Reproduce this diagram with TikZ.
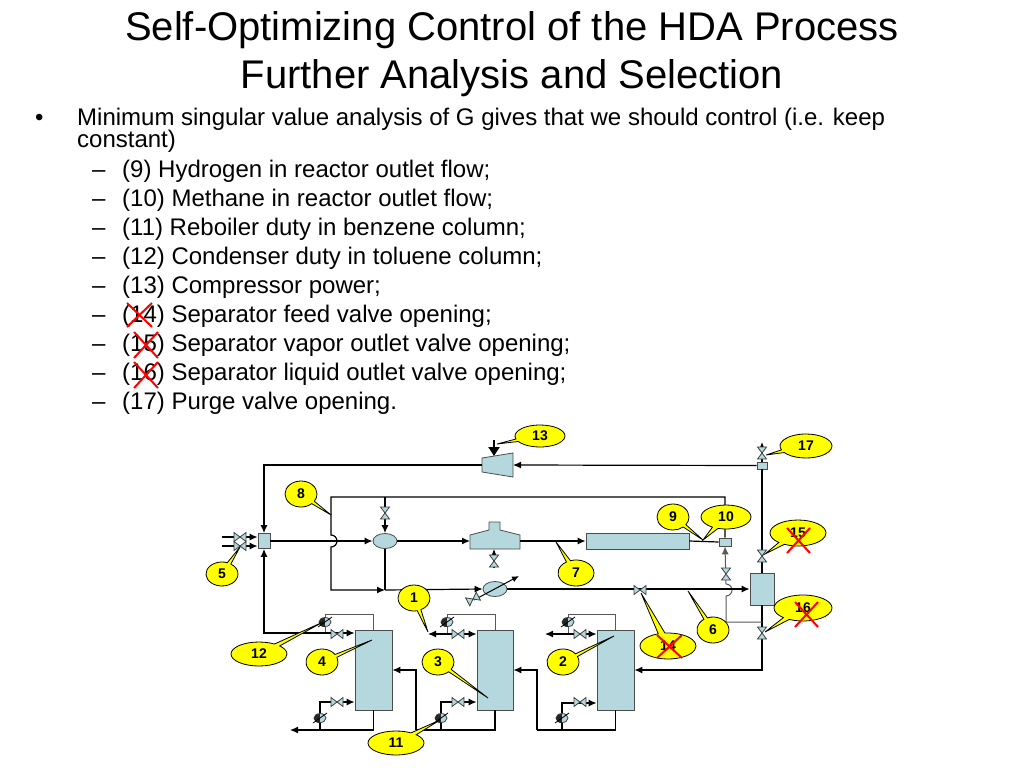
\documentclass[tikz,border=0pt]{standalone}
\usepackage{fontspec}
\setmainfont{Liberation Sans}
\usetikzlibrary{arrows.meta}
\usetikzlibrary{shapes.geometric}
\usetikzlibrary{shapes.callouts}
\definecolor{equip}{RGB}{180,216,222}
\definecolor{tagyellow}{RGB}{255,255,0}

\begin{document}
\begin{tikzpicture}[x=1pt,y=-1pt,
  pipe/.style={draw=black, line width=1.2pt},
  thinpipe/.style={draw=black!65, line width=1pt},
  flow/.style={-{Latex[length=8pt,width=7pt]}},
  unit/.style={draw=black!70, fill=equip, line width=0.8pt, inner sep=0pt},
  vlv/.style={draw=black!75, fill=equip, line width=0.8pt},
  tag/.style={ellipse callout, draw=black, fill=tagyellow, line width=0.8pt, inner sep=0pt,
    callout pointer arc=14, font=\fontsize{14}{14}\selectfont\bfseries},
  cross/.style={draw=red, line width=2pt},
  txt/.style={anchor=base west, inner sep=0pt, font=\fontsize{24}{29}\selectfont},
  hvalve/.pic={\path[vlv] (-6,-4.5) -- (6,4.5) -- (6,-4.5) -- (-6,4.5) -- cycle;},
  vvalve/.pic={\path[vlv] (-4.5,-6) -- (4.5,6) -- (-4.5,6) -- (4.5,-6) -- cycle;},
  hxer/.pic={\path[vlv] (0,0) ellipse [x radius=6pt, y radius=4.5pt];
    \fill[black!85] (0,-4.5) .. controls (-8,-4.5) and (-8,4.5) .. (0,4.5) -- cycle;
    \draw[black, line width=0.8pt] (-7,5) -- (7,-5);},
]

\useasboundingbox[fill=white] (0,0) rectangle (1024,768);

% title and text
\node[anchor=base, inner sep=0pt, font=\fontsize{40}{47}\selectfont] (title1) at (512,41) {Self-Optimizing Control of the HDA Process};
\node[anchor=base, inner sep=0pt, font=\fontsize{40}{47}\selectfont] (title2) at (512,88) {Further Analysis and Selection};

\node[txt] (bul) at (35,125) {•};
\node[txt] (intro1) at (77,125) {Minimum singular value analysis of G gives that we should control (i.e. keep};
\node[txt] (intro2) at (77,147) {constant)};

\foreach \t [count=\k from 0] in {{(9) Hydrogen in reactor outlet flow;},{(10) Methane in reactor outlet flow;},
  {(11) Reboiler duty in benzene column;},{(12) Condenser duty in toluene column;},{(13) Compressor power;},
  {(14) Separator feed valve opening;},{(15) Separator vapor outlet valve opening;},
  {(16) Separator liquid outlet valve opening;},{(17) Purge valve opening.}}{
  \node[txt] (dash\k) at (92,{177+29*\k}) {–};
  \node[txt] (item\k) at (122,{177+29*\k}) {\t};
}

\draw[cross] (127,303) -- (152,327) (152,303) -- (127,327);
\draw[cross] (134,332) -- (158,358) (158,332) -- (134,358);
\draw[cross] (134,362) -- (158,388) (158,362) -- (134,388);

% units
\node[unit, minimum width=12pt, minimum height=15pt] (mix) at (264,541) {};
\node[unit, ellipse, minimum width=24pt, minimum height=15pt] (heat) at (385,541) {};
\node[unit, minimum width=103pt, minimum height=16pt] (reac) at (637.5,541) {};
\node[unit, minimum width=12pt, minimum height=8pt] (cool) at (725,542) {};
\node[unit, minimum width=24pt, minimum height=32pt] (sep) at (762,589) {};
\node[unit, minimum width=10pt, minimum height=7pt] (split) at (762,465.5) {};
\node[unit, ellipse, minimum width=24pt, minimum height=15pt] (feh) at (495,589) {};
\node[unit, minimum width=37pt, minimum height=80pt] (colT) at (373.5,670) {};
\node[unit, minimum width=36pt, minimum height=80pt] (colB) at (495,670) {};
\node[unit, minimum width=37pt, minimum height=80pt] (colS) at (615.5,670) {};

\draw[unit] (482,458) -- (513,453) -- (513,477) -- (482,472) -- cycle;
\coordinate (compout) at (482,465);
\coordinate (compin) at (513,465);
\draw[unit] (470,549) -- (470,535) -- (489,530) -- (489,522) -- (500,522) -- (500,530) -- (520,535) -- (520,549) -- cycle;
\coordinate (furnin) at (470,541);
\coordinate (furnout) at (520,541);

% gas loop
\draw[pipe,flow] (222,537) -- ([yshift=4pt]mix.west);
\draw[pipe,flow] (222,546) -- ([yshift=-5pt]mix.west);
\draw[pipe,flow] (mix.east) -- (heat.west);
\draw[pipe,flow] (heat.east) -- (furnin);
\draw[pipe,flow] (furnout) -- (reac.west);
\draw[pipe] (reac.east) -- (cool.west);
\draw[pipe,flow] (494,568) -- (494,549);
\draw[-{Triangle[length=9pt,width=11pt]}, line width=2pt] (494,440) -- (494,456);
\draw[pipe,flow] (compout) -| (mix.north);
\draw[pipe,flow] (split.west) -- (compin);
\draw[pipe,flow] (split.north) -- (762,442);
\draw[pipe] (sep.north) -- (split.south);
\draw[pipe,flow] (sep.south) |- (colS.east);
\draw[thinpipe,flow] (762,622) -- (726,622) -- (726,596) arc[start angle=-90, end angle=90, radius=6pt] -- (cool.south);
\coordinate (quench) at (385,590);
\draw[pipe,flow] (cool.north) |- (331,497) -- (331,535) arc[start angle=90, end angle=-90, radius=6pt] -- (331,590) -- (quench);
\draw[pipe,flow] (385,497) -- (heat.north);
\draw[pipe] (heat.south) -- (quench);
\draw[pipe,flow] (quench) -- (feh.west);
\draw[pipe,flow] (feh.east) -- (sep.west);
\draw[line width=1pt, -{Latex[length=7pt,width=6pt]}] (474,600) -- (519,576);

% columns
\draw[thinpipe] (colT.north) |- (325,614) -- (325,633);
\draw[pipe,flow] (325,633) -- ([yshift=37pt]colT.west);
\draw[pipe,flow] (325,633) -| (mix.south);
\draw[pipe,flow] (colT.south) |- (290,730);
\draw[pipe,flow] (320,730) |- ([yshift=-32pt]colT.west);
\draw[pipe,flow] (416,730) |- (colT.east);

\draw[thinpipe] (colB.north) |- (447,614) -- (447,634);
\draw[pipe,flow] (447,634) -- ([yshift=36pt]colB.west);
\draw[pipe,flow] (447,634) -- (428,634);
\draw[pipe] (colB.south) |- (416,730);
\draw[pipe,flow] (441,730) |- ([yshift=-32pt]colB.west);
\draw[pipe,flow] (537,730) |- (colB.east);

\draw[thinpipe] (colS.north) |- (568,614) -- (568,634);
\draw[pipe,flow] (568,634) -- ([yshift=36pt]colS.west);
\draw[pipe,flow] (568,634) -- (545,634);
\draw[pipe] (colS.south) |- (537,730);
\draw[pipe,flow] (562,730) |- ([yshift=-33pt]colS.west);

% valves and exchangers
\pic at (240,537) {hvalve};
\pic at (240,546) {hvalve};
\pic at (385,513) {vvalve};
\pic at (494,561) {vvalve};
\pic[rotate=28] at (473,599) {hvalve};
\pic at (640,590) {hvalve};
\pic at (726,574) {vvalve};
\pic at (762,556) {vvalve};
\pic at (762,633) {vvalve};
\pic at (762,453) {vvalve};
\foreach \x in {337,458,580}{
  \pic at (\x,634) {hvalve};
  \pic at (\x,702) {hvalve};
}
\foreach \x in {325,447,568}{
  \pic at (\x,622) {hxer};
}
\foreach \x in {320,441,562}{
  \pic at (\x,718) {hxer};
}

% tags
\node[tag, minimum width=50pt, minimum height=22pt, callout absolute pointer={(497,444)}] (t13) at (540,436) {13};
\node[tag, minimum width=52pt, minimum height=24pt, callout absolute pointer={(766,455)}] (t17) at (806,446) {17};
\node[tag, minimum width=32pt, minimum height=26pt, callout absolute pointer={(331,515)}] (t8) at (301,494) {8};
\node[tag, minimum width=32pt, minimum height=24pt, callout absolute pointer={(240,547)}] (t5) at (222,574) {5};
\node[tag, minimum width=32pt, minimum height=26pt, callout absolute pointer={(703,540)}] (t9) at (673,517) {9};
\node[tag, minimum width=50pt, minimum height=24pt, callout absolute pointer={(703,540)}] (t10) at (726,517) {10};
\node[tag, minimum width=56pt, minimum height=26pt, callout absolute pointer={(765,554)}] (t15) at (798,533) {15};
\node[tag, minimum width=36pt, minimum height=26pt, callout absolute pointer={(556,542)}] (t7) at (576,573) {7};
\node[tag, minimum width=32pt, minimum height=26pt, callout absolute pointer={(428,632)}] (t1) at (414,598) {1};
\node[tag, minimum width=56pt, minimum height=26pt, callout absolute pointer={(641,593)}] (t14) at (668,646) {14};
\node[tag, minimum width=32pt, minimum height=26pt, callout absolute pointer={(688,591)}] (t6) at (713,630) {6};
\node[tag, minimum width=58pt, minimum height=26pt, callout absolute pointer={(765,632)}] (t16) at (803,608) {16};
\node[tag, minimum width=56pt, minimum height=24pt, callout absolute pointer={(323,622)}] (t12) at (259,654) {12};
\node[tag, minimum width=32pt, minimum height=26pt, callout absolute pointer={(372,640)}] (t4) at (322,662) {4};
\node[tag, minimum width=32pt, minimum height=26pt, callout absolute pointer={(488,698)}] (t3) at (438,662) {3};
\node[tag, minimum width=32pt, minimum height=26pt, callout absolute pointer={(614,636)}] (t2) at (563,662) {2};
\node[tag, minimum width=56pt, minimum height=24pt, callout absolute pointer={(440,720)}] (t11) at (396,743) {11};

\draw[cross] (657,635) -- (682,658) (682,635) -- (657,658);
\draw[cross] (787,528) -- (810,553) (810,528) -- (787,553);
\draw[cross] (795,602) -- (818,627) (818,602) -- (795,627);

\end{tikzpicture}
\end{document}
